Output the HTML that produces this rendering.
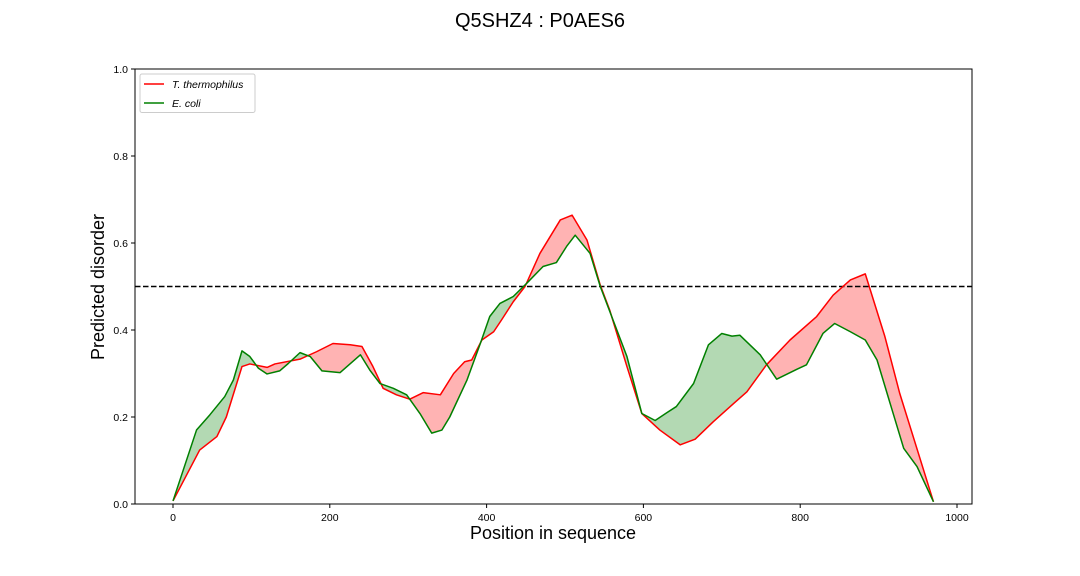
<!DOCTYPE html>
<html><head><meta charset="utf-8"><style>
html,body{margin:0;padding:0;background:#fff;}
svg{display:block;font-family:"Liberation Sans","DejaVu Sans",sans-serif;}
</style></head><body>
<svg id="chart" width="1080" height="576" viewBox="0 0 1080 576">
<text x="540" y="27" font-size="20" text-anchor="middle">Q5SHZ4 : P0AES6</text>
<defs>
<clipPath id="aboveGreen"><polygon id="cg"/></clipPath>
<clipPath id="aboveRed"><polygon id="cr"/></clipPath>
</defs>
<g id="fills"></g>
<g id="lines"></g>
<rect x="135" y="69" width="837" height="435" fill="none" stroke="#000" stroke-width="1"/>
<g id="ticks"></g>
<text x="553" y="539" font-size="18" text-anchor="middle">Position in sequence</text>
<text transform="translate(104,287) rotate(-90)" font-size="18" text-anchor="middle">Predicted disorder</text>
<g>
<rect x="140" y="74" width="115" height="38.5" rx="2" fill="#fff" stroke="#ccc"/>
<line x1="144" y1="84" x2="164" y2="84" stroke="#ff0000" stroke-width="1.5"/>
<text x="172" y="88" font-size="10.5" font-style="italic">T. thermophilus</text>
<line x1="144" y1="103" x2="164" y2="103" stroke="#008000" stroke-width="1.5"/>
<text x="172" y="107" font-size="10.5" font-style="italic">E. coli</text>
</g>
</svg>
<script>
const redX=[0,34,56,68,88,98,120,130,162,183,204,226,241,255,268,285,302,319,341,358,372,381,394,409,419,434,449,468,494,509,528,545,557,579,598,621,647,666,689,715,732,757,787,821,842,864,883,908,927,970];
const redY=[0.007,0.124,0.155,0.2,0.316,0.322,0.314,0.322,0.333,0.35,0.369,0.366,0.362,0.316,0.266,0.251,0.241,0.256,0.251,0.30,0.327,0.331,0.377,0.396,0.423,0.465,0.5,0.576,0.653,0.664,0.607,0.503,0.446,0.316,0.208,0.17,0.136,0.149,0.189,0.231,0.258,0.32,0.377,0.431,0.48,0.515,0.529,0.385,0.254,0.005];
const greenX=[0,30,47,66,77,88,98,109,120,136,147,162,175,190,213,239,251,264,281,298,315,330,343,353,375,392,404,417,434,451,472,489,502,513,532,545,579,598,615,630,642,664,683,700,713,723,749,770,796,808,829,844,864,883,898,932,949,970];
const greenY=[0.007,0.17,0.205,0.247,0.285,0.352,0.339,0.312,0.299,0.306,0.323,0.348,0.339,0.306,0.302,0.343,0.308,0.277,0.266,0.251,0.208,0.163,0.17,0.2,0.285,0.369,0.431,0.461,0.477,0.507,0.546,0.555,0.592,0.618,0.576,0.5,0.339,0.208,0.192,0.21,0.224,0.277,0.366,0.392,0.386,0.388,0.343,0.287,0.31,0.32,0.392,0.415,0.396,0.377,0.331,0.128,0.086,0.005];
const xTicks=[0,200,400,600,800,1000];
const yTicks=[0,0.2,0.4,0.6,0.8,1.0];
const threshold=0.5;
const NS='http://www.w3.org/2000/svg';
const X0=135,X1=972,Y0=69,Y1=504;
const xs=v=>173+v*0.784;
const ys=v=>Y1-v*(Y1-Y0);
function pts(a,b){return a.map((x,i)=>xs(x).toFixed(2)+','+ys(b[i]).toFixed(2));}
const rp=pts(redX,redY), gp=pts(greenX,greenY);
const yTopEdge=ys(1.2);
document.getElementById('cg').setAttribute('points',gp.join(' ')+' '+xs(greenX[greenX.length-1])+','+yTopEdge+' '+xs(greenX[0])+','+yTopEdge);
document.getElementById('cr').setAttribute('points',rp.join(' ')+' '+xs(redX[redX.length-1])+','+yTopEdge+' '+xs(redX[0])+','+yTopEdge);
const fills=document.getElementById('fills');
function mk(tag,attrs,parent){const e=document.createElementNS(NS,tag);for(const k in attrs)e.setAttribute(k,attrs[k]);parent.appendChild(e);return e;}
const base=ys(0)+2;
const rf=mk('polygon',{points:rp.join(' ')+' '+xs(redX[redX.length-1])+','+base+' '+xs(redX[0])+','+base,fill:'#ffb3b3','clip-path':'url(#aboveGreen)'},fills);


const gf=mk('polygon',{points:gp.join(' ')+' '+xs(greenX[greenX.length-1])+','+base+' '+xs(greenX[0])+','+base,fill:'#b3d9b3','clip-path':'url(#aboveRed)'},fills);


const lines=document.getElementById('lines');
const th=mk('line',{x1:X0,x2:X1,y1:ys(threshold),y2:ys(threshold),stroke:'#000','stroke-width':1.5,'stroke-dasharray':'5.5,2.5'},lines);


const rl=mk('polyline',{points:rp.join(' '),fill:'none',stroke:'#ff0000','stroke-width':1.5,'stroke-linejoin':'round'},lines);


const gl=mk('polyline',{points:gp.join(' '),fill:'none',stroke:'#008000','stroke-width':1.5,'stroke-linejoin':'round'},lines);


const tk=document.getElementById('ticks');
xTicks.forEach(v=>{
 const l=mk('line',{x1:xs(v),x2:xs(v),y1:Y1,y2:Y1+4,stroke:'#000'},tk);
 
 
 const t=mk('text',{x:xs(v),y:Y1+17,'font-size':10.5,'text-anchor':'middle'},tk);
 t.textContent=String(v);
 
 
});
yTicks.forEach(v=>{
 const l=mk('line',{x1:X0-4,x2:X0,y1:ys(v),y2:ys(v),stroke:'#000'},tk);
 
 
 const t=mk('text',{x:X0-7,y:ys(v)+4,'font-size':10.5,'text-anchor':'end'},tk);
 t.textContent=v.toFixed(1);
 
 
});
</script>
</body></html>
